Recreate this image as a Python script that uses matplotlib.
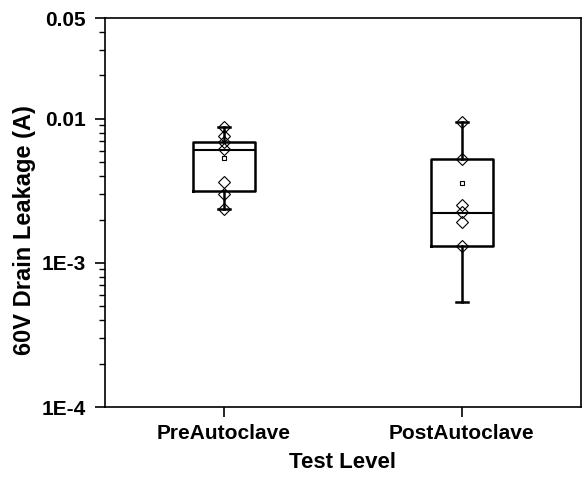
import matplotlib
matplotlib.use("Agg")
import matplotlib.pyplot as plt
from matplotlib.ticker import LogLocator, FixedLocator, FixedFormatter, NullFormatter

plt.rcParams['font.family'] = ['Liberation Sans', 'DejaVu Sans']
plt.rcParams['font.weight'] = 'bold'

groups = ['PreAutoclave', 'PostAutoclave']
q1 = [3.16e-3, 1.30e-3]
medians = [6.07e-3, 2.23e-3]
q3 = [6.94e-3, 5.26e-3]
whisker_low = [2.38e-3, 5.34e-4]
whisker_high = [8.74e-3, 9.46e-3]
means = [5.34e-3, 3.61e-3]

pre_points = [8.74e-3, 7.57e-3, 6.89e-3, 6.16e-3, 3.65e-3, 3.01e-3, 2.38e-3]
post_points = [9.46e-3, 5.26e-3, 2.53e-3, 2.27e-3, 1.93e-3, 1.30e-3]

yticks = [1e-4, 1e-3, 1e-2, 5e-2]
ytick_labels = ['1E-4', '1E-3', '0.01', '0.05']

fig = plt.figure(figsize=(5.85, 4.83), dpi=100)
ax = fig.add_axes([0.1795, 0.1573, 0.8135, 0.8054])

stats = []
for i, name in enumerate(groups):
    stats.append(dict(label=name, q1=q1[i], med=medians[i], q3=q3[i],
                      whislo=whisker_low[i], whishi=whisker_high[i], mean=means[i]))

positions = [1, 2]
ax.bxp(stats, positions=positions, widths=0.26, showmeans=True, showfliers=False,
       capwidths=0.05,
       boxprops=dict(color='black', linewidth=1.8),
       medianprops=dict(color='black', linewidth=1.5),
       whiskerprops=dict(color='black', linewidth=1.8),
       capprops=dict(color='black', linewidth=1.8),
       meanprops=dict(marker='s', markersize=3.5, markerfacecolor='white',
                      markeredgecolor='black', markeredgewidth=0.8))

# raw measurements drawn as open diamonds over each box
for pos, pts in zip(positions, [pre_points, post_points]):
    ax.plot([pos] * len(pts), pts, linestyle='none', marker='D', markersize=6,
            markerfacecolor='none', markeredgecolor='black', markeredgewidth=0.8)

ax.set_yscale('log')
ax.set_ylim(1e-4, 5e-2)
ax.set_xlim(0.5, 2.5)

ax.yaxis.set_major_locator(FixedLocator(yticks))
ax.yaxis.set_major_formatter(FixedFormatter(ytick_labels))
ax.yaxis.set_minor_locator(LogLocator(base=10, subs=range(2, 10)))
ax.yaxis.set_minor_formatter(NullFormatter())

ax.set_xticks(positions)
ax.set_xticklabels(groups)

ax.tick_params(axis='y', which='major', direction='out', length=7, width=1.2,
               labelsize=15, pad=7)
ax.tick_params(axis='y', which='minor', direction='out', length=4, width=1.0)
ax.tick_params(axis='x', which='major', direction='out', length=7, width=1.2,
               labelsize=15, pad=5)
for lbl in ax.get_xticklabels() + ax.get_yticklabels():
    lbl.set_fontweight('bold')

for sp in ax.spines.values():
    sp.set_linewidth(1.2)

ax.set_xlabel('Test Level', fontsize=16, fontweight='bold', labelpad=7)
ax.set_ylabel('60V Drain Leakage (A)', fontsize=17, fontweight='bold')
ax.yaxis.set_label_coords(-0.145, 0.455)

fig.savefig('out.png', dpi=100)
